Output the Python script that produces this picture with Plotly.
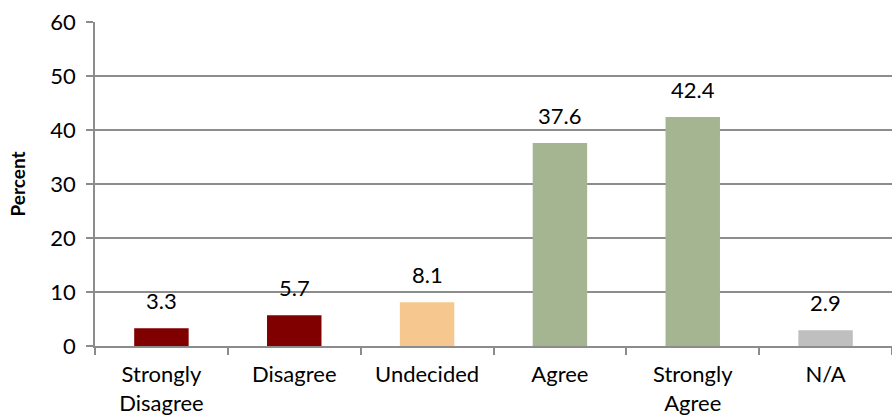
import plotly.graph_objects as go

categories = ["Strongly<br>Disagree", "Disagree", "Undecided", "Agree", "Strongly<br>Agree", "N/A"]
values = [3.3, 5.7, 8.1, 37.6, 42.4, 2.9]
colors = ["#800000", "#800000", "#F6C88F", "#A5B592", "#A5B592", "#BFBFBF"]
y_ticks = [0, 10, 20, 30, 40, 50, 60]

FONT = "Lato, 'DejaVu Sans', sans-serif"

fig = go.Figure()
fig.add_trace(go.Bar(
    x=categories, y=values, marker=dict(color=colors, line=dict(width=0)),
    width=0.41, hoverinfo="skip",
))
for c, v in zip(categories, values):
    fig.add_annotation(x=c, y=v, text=f"{v:.1f}", showarrow=False,
                       yanchor="bottom", yshift=12,
                       font=dict(family=FONT, size=22, color="#000"))

fig.update_layout(
    width=892, height=416,
    margin=dict(l=95, r=0, t=22, b=70),
    paper_bgcolor="white", plot_bgcolor="white",
    showlegend=False,
    font=dict(family=FONT, size=22, color="#000"),
    bargap=0.59,
)
fig.update_xaxes(
    showline=True, linecolor="#8C8C8C", linewidth=1.5,
    ticks="outside", tickson="boundaries", ticklen=7, tickcolor="#8C8C8C", tickwidth=1.5,
    showgrid=False, tickfont=dict(family=FONT, size=22, color="#000"),
    ticklabelstandoff=8,
)
fig.update_yaxes(
    range=[0, 60], tickvals=y_ticks, showline=True, linecolor="#8C8C8C", linewidth=1.5,
    ticks="outside", ticklen=7, tickcolor="#8C8C8C", tickwidth=1.5,
    showgrid=True, gridcolor="#8C8C8C", gridwidth=1.5, zeroline=False,
    tickfont=dict(family=FONT, size=22, color="#000"),
    ticklabelstandoff=6,
    title=dict(text="<b>Percent</b>", font=dict(family=FONT, size=19, color="#000"), standoff=20),
)

fig.write_html("out.html")
